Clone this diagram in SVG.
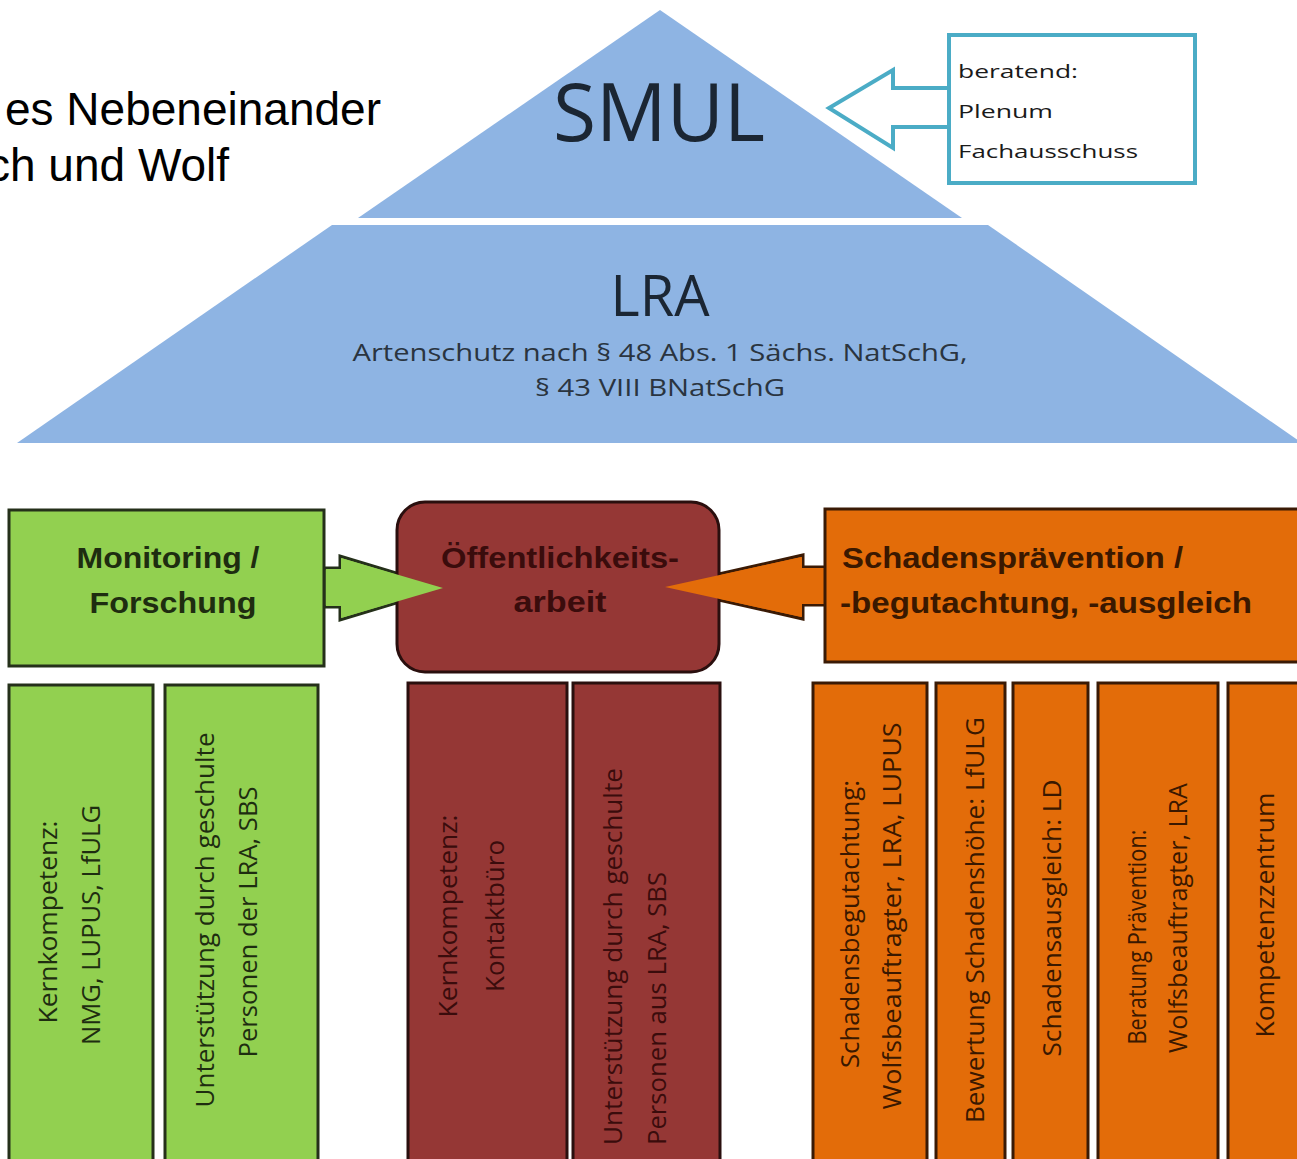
<svg xmlns="http://www.w3.org/2000/svg" width="1297" height="1159" viewBox="0 0 1297 1159">
<style>
.title{font-family:"Liberation Sans",Arial,sans-serif;font-size:46px;fill:#000}
.pyr{fill:#8EB4E3}
.big{font-family:"Open Sans","Noto Sans",sans-serif;fill:#1B2633}
.sub{font-family:"Open Sans","Noto Sans",sans-serif;font-size:24px;fill:#2A3440}
.ber{font-family:"Open Sans","Noto Sans",sans-serif;font-size:18px;fill:#1a1a1a}
.teal{fill:#fff;stroke:#4BACC6;stroke-width:4}
.hd{font-family:"Liberation Sans",Arial,sans-serif;font-size:29px;font-weight:bold}
.col{font-family:"Open Sans","Noto Sans",sans-serif;font-size:25px}
.g{fill:#92D050;stroke:#25301A;stroke-width:3}
.r{fill:#953735;stroke:#2A0F0E;stroke-width:3}
.o{fill:#E36C09;stroke:#3A1A05;stroke-width:3}
.gt{fill:#1E2D10}
.rt{fill:#3A0C0C}
.ot{fill:#3A1800}
</style>

<g id="title">
<text class="title" x="5" y="125">es Nebeneinander</text>
<text class="title" x="-13" y="181">ch und Wolf</text>
</g>

<g id="smul">
<polygon class="pyr" points="660,10 962,218 358,218"/>
<text class="big" x="659" y="141" font-size="80" text-anchor="middle" textLength="212" lengthAdjust="spacingAndGlyphs">SMUL</text>
</g>

<g id="lra">
<polygon class="pyr" points="332,225 988,225 1302,443 17,443"/>
<text class="big" x="660" y="316" font-size="56" text-anchor="middle" textLength="99" lengthAdjust="spacingAndGlyphs">LRA</text>
<text class="sub" x="660" y="361" text-anchor="middle" textLength="615" lengthAdjust="spacingAndGlyphs">Artenschutz nach § 48 Abs. 1 Sächs. NatSchG,</text>
<text class="sub" x="660" y="396" text-anchor="middle" textLength="250" lengthAdjust="spacingAndGlyphs">§ 43 VIII BNatSchG</text>
</g>

<g id="connectors">
<polygon class="teal" points="951,88 893,88 893,70 829,108 893,148 893,127 951,127"/>
<polygon points="324,568 340,568 340,556 446,588 340,620 340,607 324,607" fill="#92D050" stroke="#25301A" stroke-width="3" stroke-linejoin="miter"/>
<polygon points="826,567 803,567 803,555 661,587 803,619 803,605 826,605" fill="#E36C09" stroke="#3A1A05" stroke-width="3"/>
</g>

<g id="beratend">
<rect x="949" y="35" width="246" height="148" fill="#fff" stroke="#4BACC6" stroke-width="4"/>
<text class="ber" x="958" y="78" textLength="120" lengthAdjust="spacingAndGlyphs">beratend:</text>
<text class="ber" x="958" y="118" textLength="95" lengthAdjust="spacingAndGlyphs">Plenum</text>
<text class="ber" x="958" y="158" textLength="180" lengthAdjust="spacingAndGlyphs">Fachausschuss</text>
</g>

<g id="monitoring">
<rect class="g" x="9" y="510" width="315" height="156"/>
<text class="hd gt" x="168" y="568" text-anchor="middle" textLength="183" lengthAdjust="spacingAndGlyphs">Monitoring /</text>
<text class="hd gt" x="173" y="613" text-anchor="middle" textLength="167" lengthAdjust="spacingAndGlyphs">Forschung</text>
</g>

<g id="oeffentlichkeit">
<rect class="r" x="397" y="502" width="322" height="170" rx="28"/>
<text class="hd rt" x="560" y="568" text-anchor="middle" textLength="238" lengthAdjust="spacingAndGlyphs">Öffentlichkeits-</text>
<text class="hd rt" x="560" y="612" text-anchor="middle" textLength="93" lengthAdjust="spacingAndGlyphs">arbeit</text>
</g>

<g id="connectors-over">
<polygon points="326,569 341,569 341,558 443,588 341,618 341,606 326,606" fill="#92D050"/>
<polygon points="824,568 802,568 802,557 665,587 802,617 802,604 824,604" fill="#E36C09"/>
</g>

<g id="schaden">
<rect class="o" x="825" y="509" width="480" height="153"/>
<text class="hd ot" x="842" y="568" textLength="341" lengthAdjust="spacingAndGlyphs">Schadensprävention /</text>
<text class="hd ot" x="840" y="613" textLength="412" lengthAdjust="spacingAndGlyphs">-begutachtung,  -ausgleich</text>
</g>

<g id="col1">
<rect class="g" x="9" y="685" width="144" height="490"/>
<text class="col gt" transform="translate(57,922) rotate(-90)" text-anchor="middle" textLength="203" lengthAdjust="spacingAndGlyphs">Kernkompetenz:</text>
<text class="col gt" transform="translate(100,925) rotate(-90)" text-anchor="middle" textLength="240" lengthAdjust="spacingAndGlyphs">NMG, LUPUS, LfULG</text>
</g>
<g id="col2">
<rect class="g" x="165" y="685" width="153" height="490"/>
<text class="col gt" transform="translate(214,920) rotate(-90)" text-anchor="middle" textLength="375" lengthAdjust="spacingAndGlyphs">Unterstützung durch geschulte</text>
<text class="col gt" transform="translate(257,922) rotate(-90)" text-anchor="middle" textLength="271" lengthAdjust="spacingAndGlyphs">Personen der LRA, SBS</text>
</g>
<g id="col3">
<rect class="r" x="408" y="683" width="159" height="490"/>
<text class="col rt" transform="translate(457,916) rotate(-90)" text-anchor="middle" textLength="203" lengthAdjust="spacingAndGlyphs">Kernkompetenz:</text>
<text class="col rt" transform="translate(504,916) rotate(-90)" text-anchor="middle" textLength="152" lengthAdjust="spacingAndGlyphs">Kontaktbüro</text>
</g>
<g id="col4">
<rect class="r" x="573" y="683" width="147" height="490"/>
<text class="col rt" transform="translate(622,1145) rotate(-90)" textLength="377" lengthAdjust="spacingAndGlyphs">Unterstützung durch geschulte</text>
<text class="col rt" transform="translate(666,1145) rotate(-90)" textLength="273" lengthAdjust="spacingAndGlyphs">Personen aus LRA, SBS</text>
</g>
<g id="col5">
<rect class="o" x="813" y="683" width="114" height="490"/>
<text class="col ot" transform="translate(859,924) rotate(-90)" text-anchor="middle" textLength="288" lengthAdjust="spacingAndGlyphs">Schadensbegutachtung:</text>
<text class="col ot" transform="translate(901,916) rotate(-90)" text-anchor="middle" textLength="387" lengthAdjust="spacingAndGlyphs">Wolfsbeauftragter, LRA,  LUPUS</text>
</g>
<g id="col6">
<rect class="o" x="936" y="683" width="69" height="490"/>
<text class="col ot" transform="translate(984,920) rotate(-90)" text-anchor="middle" textLength="406" lengthAdjust="spacingAndGlyphs">Bewertung Schadenshöhe: LfULG</text>
</g>
<g id="col7">
<rect class="o" x="1013" y="683" width="75" height="490"/>
<text class="col ot" transform="translate(1061,918) rotate(-90)" text-anchor="middle" textLength="277" lengthAdjust="spacingAndGlyphs">Schadensausgleich: LD</text>
</g>
<g id="col8">
<rect class="o" x="1098" y="683" width="120" height="490"/>
<text class="col ot" transform="translate(1146,937) rotate(-90)" text-anchor="middle" textLength="215" lengthAdjust="spacingAndGlyphs">Beratung Prävention:</text>
<text class="col ot" transform="translate(1187,918) rotate(-90)" text-anchor="middle" textLength="270" lengthAdjust="spacingAndGlyphs">Wolfsbeauftragter, LRA</text>
</g>
<g id="col9">
<rect class="o" x="1228" y="683" width="90" height="490"/>
<text class="col ot" transform="translate(1274,915) rotate(-90)" text-anchor="middle" textLength="245" lengthAdjust="spacingAndGlyphs">Kompetenzzentrum</text>
</g>
</svg>
